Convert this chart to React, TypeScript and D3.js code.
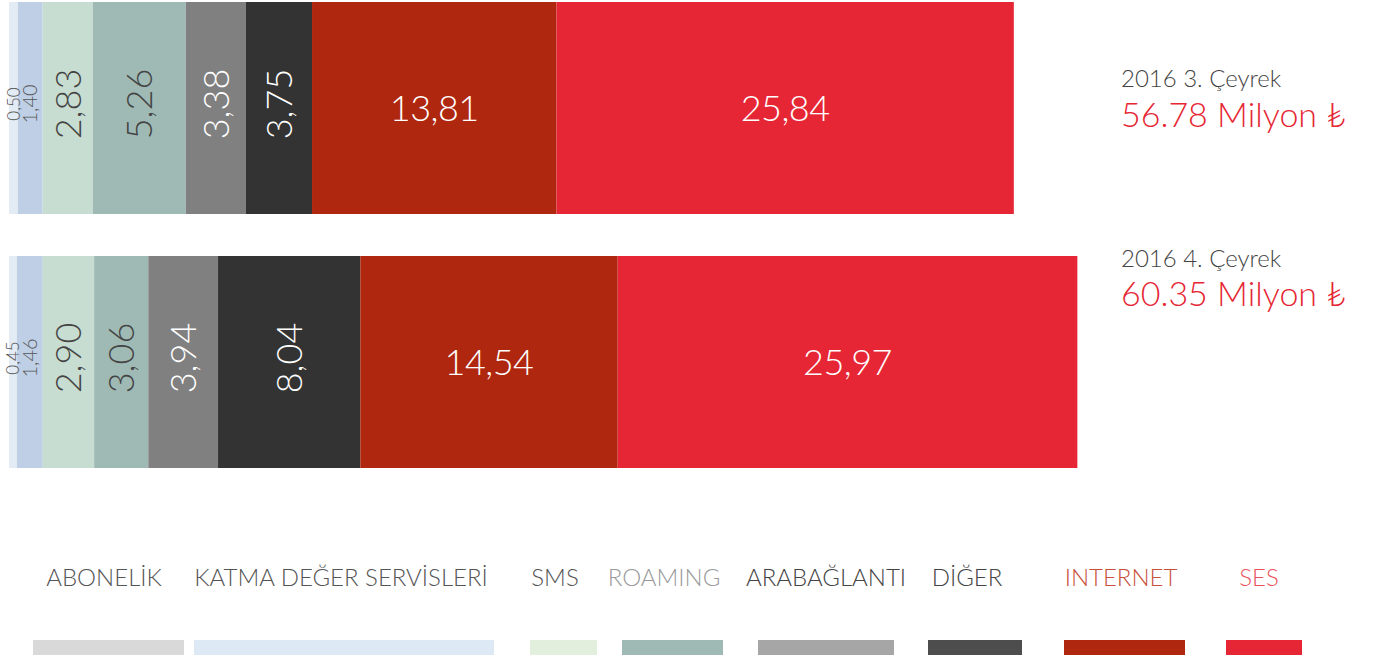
import React from "react";
import * as d3 from "d3";

// -- DATA --
const quarters = ["2016 3. Çeyrek", "2016 4. Çeyrek"];
const totals = ["56.78", "60.35"];
const categories = ["ABONELİK", "KATMA DEĞER SERVİSLERİ", "SMS", "ROAMING", "ARABAĞLANTI", "DİĞER", "INTERNET", "SES"];
const q3Values = [0.5, 1.4, 2.83, 5.26, 3.38, 3.75, 13.81, 25.84];
const q4Values = [0.45, 1.46, 2.9, 3.06, 3.94, 8.04, 14.54, 25.97];
const seriesValues = [q3Values, q4Values];

// -- STYLE --
const barColors = ["#e3ebf4", "#bfd0e6", "#c8ddd1", "#9fbab5", "#808080", "#333333", "#b0270f", "#e62634"];
const barTextColors = ["#555", "#555", "#444", "#444", "#fff", "#fff", "#fff", "#fff"];
const legendColors = ["#d9d9d9", "#dde9f5", "#e2efdc", "#9fbab5", "#a6a6a6", "#4d4d4d", "#b0270f", "#e62634"];
const legendTextColors = ["#555", "#555", "#555", "#9a9a9a", "#444", "#444", "#c8503c", "#e9535d"];
// legend layout: swatch extents and label centre
const legendBoxes = [[33, 184], [194, 494], [530, 597], [622, 723], [758, 894], [928, 1022], [1064, 1185], [1226, 1302]];
const legendLabelX = [104, 341, 555, 664, 826, 967, 1121, 1259];
// annotation baselines (label, total) for each quarter
const annotY = [[87, 127], [267, 306]];

const W = 1376;
const H = 655;
const FONT = "Lato, 'Open Sans', sans-serif";

const App = () => {
  const svgRef = React.useRef(null);

  React.useEffect(() => {
    const svg = d3.select(svgRef.current);
    svg.selectAll("*").remove();

    const x = d3.scaleLinear().domain([0, 56.78]).range([9, 1014]);
    const y = d3.scaleBand().domain(quarters).range([2, 468]).paddingInner(42 / 254);

    quarters.forEach((q, qi) => {
      const vals = seriesValues[qi];
      const stacked = [];
      let acc = 0;
      vals.forEach((v, i) => {
        stacked.push({ v, i, x0: acc, x1: acc + v });
        acc += v;
      });
      const g = svg.append("g");
      const y0 = y(q);
      const bw = y.bandwidth();
      const cy = y0 + bw / 2;

      g.selectAll("rect")
        .data(stacked)
        .enter()
        .append("rect")
        .attr("x", (d) => x(d.x0))
        .attr("y", y0)
        .attr("width", (d) => x(d.x1) - x(d.x0))
        .attr("height", bw)
        .style("fill", (d) => barColors[d.i]);

      // labels: vertical for narrow segments, horizontal otherwise
      g.selectAll("text")
        .data(stacked)
        .enter()
        .append("text")
        .attr("transform", (d) => {
          const cx = (x(d.x0) + x(d.x1)) / 2;
          return d.v < 10 ? `translate(${cx},${cy - 4}) rotate(-90)` : `translate(${cx},${cy})`;
        })
        .attr("text-anchor", "middle")
        .attr("dy", "0.36em")
        .style("font-family", FONT)
        .style("font-weight", 300)
        .style("font-size", (d) => (d.v < 1 ? "17px" : d.v < 2 ? "20px" : "36px"))
        .style("letter-spacing", (d) => (d.v >= 10 ? "-0.5px" : "0px"))
        .style("fill", (d) => barTextColors[d.i])
        .text((d) => d3.format(".2f")(d.v).replace(".", ","));

      // right-side annotation
      svg.append("text")
        .attr("x", 1121)
        .attr("y", annotY[qi][0])
        .style("font-family", FONT)
        .style("font-weight", 300)
        .style("font-size", "24px")
        .style("fill", "#444")
        .text(q);
      svg.append("text")
        .attr("x", 1121)
        .attr("y", annotY[qi][1])
        .style("font-family", FONT)
        .style("font-weight", 300)
        .style("font-size", "34px")
        .style("fill", "#e62634")
        .text(`${totals[qi]} Milyon ₺`);
    });

    // Legend
    const legend = svg.append("g");
    legend.selectAll("text")
      .data(categories)
      .enter()
      .append("text")
      .attr("x", (d, i) => legendLabelX[i])
      .attr("y", 586)
      .attr("text-anchor", "middle")
      .style("font-family", FONT)
      .style("font-weight", 300)
      .style("font-size", "24px")
      .style("fill", (d, i) => legendTextColors[i])
      .text((d) => d);
    legend.selectAll("rect")
      .data(categories)
      .enter()
      .append("rect")
      .attr("x", (d, i) => legendBoxes[i][0])
      .attr("y", 640)
      .attr("width", (d, i) => legendBoxes[i][1] - legendBoxes[i][0])
      .attr("height", 30)
      .style("fill", (d, i) => legendColors[i]);
  }, []);

  return (
    <svg
      ref={svgRef}
      width={W}
      height={H}
      style={{ position: "absolute", left: 0, top: 0, background: "#fff" }}
    />
  );
};

export default App;
